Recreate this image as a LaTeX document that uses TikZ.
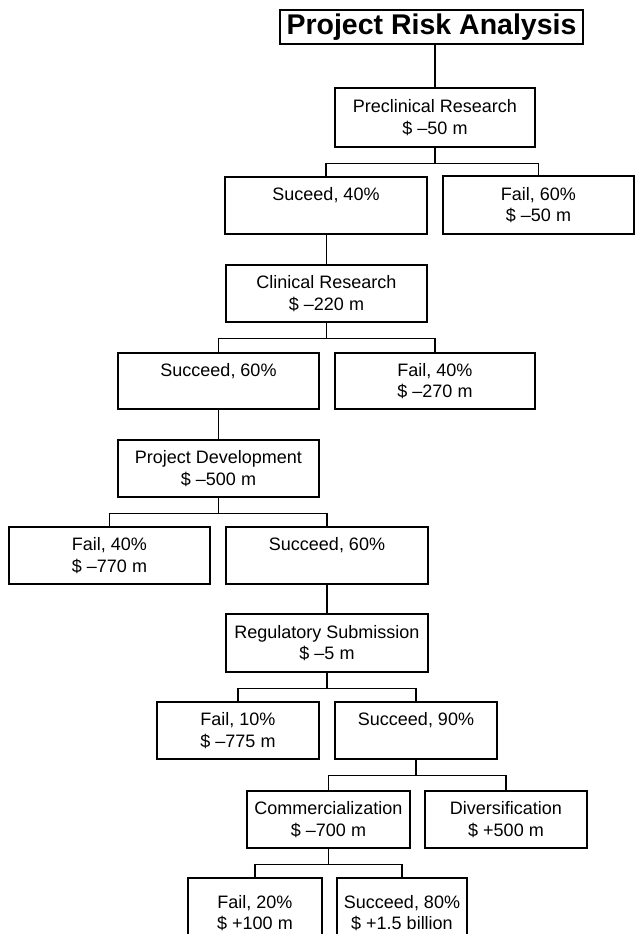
\documentclass[tikz,border=0pt]{standalone}
\usepackage{fontspec}
\setmainfont{Liberation Sans}
% \riskbox{name}{x1}{y1}{x2}{y2}{text}: a framed box given by its corners
\newcommand\riskbox[6]{%
  \node[box, minimum width={#4-#2}, minimum height={#5-#3}] (#1)
    at ({(#2+#4)/2},{(#3+#5)/2}) {#6};}
% \branch{parent}{child}: elbow connector through a bar below the parent
\newcommand\branch[2]{%
  \draw[link] (#1.south) -- ++(0,15.5) -| (#2.north);}
\begin{document}
\begin{tikzpicture}[x=1pt,y=-1pt,
  box/.style={draw, line width=1.1pt, inner sep=0pt, align=center,
    font=\fontsize{18}{21.5}\selectfont},
  link/.style={line width=1.1pt}]
\useasboundingbox (0,0) rectangle (635,934);
\clip (0,0) rectangle (635,934);

% title
\node[box, minimum width=303, minimum height=34,
  font=\bfseries\fontsize{28.5}{34}\selectfont] (title) at (431.5,27) {Project Risk Analysis};

% decision tree
\riskbox{pre}{335}{88}{535}{147}{Preclinical Research\\\$ –50 m}
\riskbox{sA}{225}{177}{427}{234}{Suceed, 40\%\\\phantom{\$}}
\riskbox{fA}{443}{176}{634}{234}{Fail, 60\%\\\$ –50 m}
\riskbox{clin}{226}{265}{427}{322}{Clinical Research\\\$ –220 m}
\riskbox{sB}{118}{353}{319}{409}{Succeed, 60\%\\\phantom{\$}}
\riskbox{fB}{335}{353}{535}{409}{Fail, 40\%\\\$ –270 m}
\riskbox{dev}{118}{440}{319}{497}{Project Development\\\$ –500 m}
\riskbox{fC}{9}{527}{210}{584}{Fail, 40\%\\\$ –770 m}
\riskbox{sC}{226}{527}{428}{584}{Succeed, 60\%\\\phantom{\$}}
\riskbox{reg}{226}{614}{428}{672}{Regulatory Submission\\\$ –5 m}
\riskbox{fD}{157}{702}{319}{759}{Fail, 10\%\\\$ –775 m}
\riskbox{sD}{335}{702}{497}{759}{Succeed, 90\%\\\phantom{\$}}
\riskbox{com}{247}{791}{410}{848}{Commercialization\\\$ –700 m}
\riskbox{div}{425}{791}{587}{848}{Diversification\\\$ +500 m}
\riskbox{fE}{188}{878}{322}{948}{Fail, 20\%\\\$ +100 m}
\riskbox{sE}{337}{878}{467}{948}{Succeed, 80\%\\\$ +1.5 billion}

% connectors
\draw[link] (pre.north) -- (pre.north |- title.south);
\branch{pre}{sA}
\branch{pre}{fA}
\draw[link] (clin.north) -- (clin.north |- sA.south);
\branch{clin}{sB}
\branch{clin}{fB}
\draw[link] (dev.north) -- (dev.north |- sB.south);
\branch{dev}{fC}
\branch{dev}{sC}
\draw[link] (reg.north) -- (reg.north |- sC.south);
\branch{reg}{fD}
\branch{reg}{sD}
\branch{sD}{com}
\branch{sD}{div}
\branch{com}{fE}
\branch{com}{sE}
\end{tikzpicture}
\end{document}
